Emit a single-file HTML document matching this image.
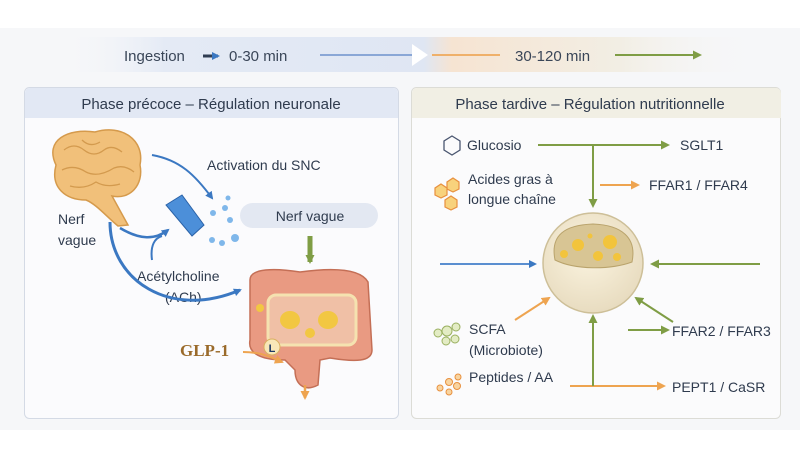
<!DOCTYPE html>
<html><head><meta charset="utf-8"><style>
body{margin:0;background:#fff;}
svg{display:block;font-family:"Liberation Sans",sans-serif;}
</style></head><body>
<svg width="800" height="457" viewBox="0 0 800 457" xmlns="http://www.w3.org/2000/svg">
<defs>
<linearGradient id="ban" x1="0" x2="1">
<stop offset="0" stop-color="#f6f7f9" stop-opacity="0"/>
<stop offset="0.15" stop-color="#e4eaf5"/>
<stop offset="0.52" stop-color="#dfe6f3"/>
<stop offset="0.56" stop-color="#f6e4d2"/>
<stop offset="0.8" stop-color="#f2eee4"/>
<stop offset="1" stop-color="#f6f7f9" stop-opacity="0"/>
</linearGradient>
<marker id="ab" markerWidth="8" markerHeight="8" refX="6" refY="4" orient="auto" markerUnits="userSpaceOnUse"><path d="M0,0 L8,4 L0,8 z" fill="#3b78c2"/></marker>
<marker id="ag" markerWidth="9" markerHeight="9" refX="7" refY="4.5" orient="auto" markerUnits="userSpaceOnUse"><path d="M0,0 L9,4.5 L0,9 z" fill="#7f9d45"/></marker>
<marker id="ao" markerWidth="9" markerHeight="9" refX="7" refY="4.5" orient="auto" markerUnits="userSpaceOnUse"><path d="M0,0 L9,4.5 L0,9 z" fill="#eea450"/></marker>
<radialGradient id="cell" cx="0.45" cy="0.4" r="0.6"><stop offset="0" stop-color="#fbf4e0"/><stop offset="1" stop-color="#e8dcc0"/></radialGradient>
</defs>
<rect x="0" y="28" width="800" height="402" fill="#f6f7f9"/>
<rect x="60" y="37" width="700" height="35" fill="url(#ban)"/>
<text x="124" y="61" font-size="15" fill="#3a4658">Ingestion</text>
<path d="M203,56 H218" stroke="#2f3d52" stroke-width="3" marker-end="url(#ab)"/>
<text x="229" y="61" font-size="15" fill="#3a4658">0-30 min</text>
<line x1="320" y1="55" x2="418" y2="55" stroke="#8aa7d6" stroke-width="2"/>
<path d="M412,44 L428,55 L412,66 z" fill="#fff"/>
<line x1="432" y1="55" x2="500" y2="55" stroke="#efb06a" stroke-width="2"/>
<text x="515" y="61" font-size="15" fill="#3a4658">30-120 min</text>
<line x1="615" y1="55" x2="700" y2="55" stroke="#7f9d45" stroke-width="2" marker-end="url(#ag)"/>

<rect x="24.5" y="87.5" width="374" height="331" rx="5" fill="#fbfbfd" stroke="#d4dae5"/>
<path d="M25,118 V93 a5,5 0 0 1 5,-5 H393 a5,5 0 0 1 5,5 V118 z" fill="#e2e8f4"/>
<text x="211" y="109" font-size="15" fill="#2f3b4e" text-anchor="middle">Phase précoce – Régulation neuronale</text>
<path d="M56,165 C44,140 68,128 95,132 C122,124 145,140 140,165 C144,185 130,200 112,196 L128,225 L118,226 C106,216 96,204 86,200 C66,200 50,188 56,165 z" fill="#f1c07a" stroke="#d59a4c" stroke-width="1.5"/>
<path d="M64,150 q10,-8 20,0 q10,8 20,0 q8,-6 18,2 M62,170 q12,-6 24,2 q12,6 28,-4 q10,-4 20,4 M82,140 q8,8 18,2 M70,186 q14,4 26,-4 q10,6 24,2" stroke="#d39a4e" fill="none" stroke-width="1.3"/>
<text x="207" y="170" font-size="14" fill="#2f3b4e">Activation du SNC</text>
<rect x="240" y="203" width="138" height="25" rx="12.5" fill="#e3e8f2"/>
<text x="310" y="221" font-size="14" fill="#2f3b4e" text-anchor="middle">Nerf vague</text>
<text x="58" y="224" font-size="14" fill="#2f3b4e">Nerf</text>
<text x="58" y="245" font-size="14" fill="#2f3b4e">vague</text>
<text x="137" y="281" font-size="14" fill="#2f3b4e">Acétylcholine</text>
<text x="165" y="302" font-size="14" fill="#2f3b4e">(ACh)</text>
<path d="M166,205 L182,195 L204,225 L192,236 z" fill="#4c8fd9" stroke="#2a62a8"/>
<g fill="#7fb7ea"><circle cx="213" cy="213" r="3"/><circle cx="225" cy="208" r="3"/><circle cx="230" cy="220" r="3"/><circle cx="212" cy="240" r="3"/><circle cx="222" cy="243" r="3"/><circle cx="235" cy="238" r="4"/><circle cx="228" cy="198" r="2.5"/></g>
<path d="M152,155 C180,160 195,175 212,198" stroke="#3b78c2" stroke-width="2" fill="none" marker-end="url(#ab)"/>
<path d="M120,228 C140,240 155,240 168,230" stroke="#3b78c2" stroke-width="2.5" fill="none" marker-end="url(#ab)"/>
<path d="M152,260 C150,245 155,238 162,236" stroke="#3b78c2" stroke-width="2" fill="none"/>
<path d="M110,222 C110,280 170,320 240,290" stroke="#3b78c2" stroke-width="3" fill="none" marker-end="url(#ab)"/>
<path d="M310,236 V262" stroke="#7f9d45" stroke-width="5" marker-end="url(#ag)"/>
<path d="M250,280 C250,268 275,268 300,272 C330,268 360,268 368,282 L372,350 C372,362 355,362 330,358 L320,360 L318,385 C305,392 295,385 295,370 L285,360 C255,360 248,350 250,340 z" fill="#e99a82" stroke="#c46f56" stroke-width="1.5"/>
<rect x="268" y="295" width="88" height="50" rx="8" fill="#f0c0a6" stroke="#f5e2b0" stroke-width="3"/>
<g fill="#f2c742"><ellipse cx="290" cy="320" rx="10" ry="9"/><ellipse cx="328" cy="320" rx="10" ry="9"/><circle cx="310" cy="333" r="5"/><circle cx="260" cy="308" r="4"/></g>
<path d="M305,385 V398" stroke="#eea450" stroke-width="2.5" marker-end="url(#ao)"/>
<text x="180" y="356" font-size="17" font-weight="bold" fill="#9a6a2a" font-family="Liberation Serif,serif">GLP-1</text>
<circle cx="272" cy="347" r="8" fill="#f8e7b8" stroke="#d9b060"/>
<text x="272" y="352" font-size="11" font-weight="bold" fill="#1f3a66" text-anchor="middle">L</text>
<path d="M243,352 C262,352 270,357 282,362" stroke="#eea450" stroke-width="2" fill="none" marker-end="url(#ao)"/>

<rect x="411.5" y="87.5" width="369" height="331" rx="5" fill="#fbfbfc" stroke="#dcdcd6"/>
<path d="M412,118 V93 a5,5 0 0 1 5,-5 H776 a5,5 0 0 1 5,5 V118 z" fill="#f1efe4"/>
<text x="590" y="109" font-size="15" fill="#2f3b4e" text-anchor="middle">Phase tardive – Régulation nutritionnelle</text>
<polygon points="452,136 460,141 460,150 452,155 444,150 444,141" fill="none" stroke="#4a5670" stroke-width="1.3"/>
<text x="467" y="150" font-size="14" fill="#2f3b4e">Glucosio</text>
<line x1="538" y1="145" x2="668" y2="145" stroke="#7f9d45" stroke-width="2" marker-end="url(#ag)"/>
<text x="680" y="150" font-size="14" fill="#2f3b4e">SGLT1</text>
<line x1="593" y1="145" x2="593" y2="206" stroke="#7f9d45" stroke-width="2" marker-end="url(#ag)"/>
<g fill="#f8d27c" stroke="#e8903e" stroke-width="1.2"><polygon points="453,178 459,182 459,189 453,192 447,189 447,182"/><polygon points="441,184 447,188 447,195 441,198 435,195 435,188"/><polygon points="451,196 457,200 457,207 451,210 445,207 445,200"/></g>
<text x="468" y="184" font-size="14" fill="#2f3b4e">Acides gras à</text>
<text x="468" y="204" font-size="14" fill="#2f3b4e">longue chaîne</text>
<line x1="600" y1="185" x2="638" y2="185" stroke="#eea450" stroke-width="2" marker-end="url(#ao)"/>
<text x="649" y="190" font-size="14" fill="#2f3b4e">FFAR1 / FFAR4</text>
<circle cx="593" cy="263" r="50" fill="url(#cell)" stroke="#cdbf98" stroke-width="1.5"/>
<path d="M555,260 C550,235 565,225 593,224 C622,225 637,238 632,262 C610,270 575,270 555,260 z" fill="#d8c594" stroke="#b9a36c"/>
<g fill="#f2c43c"><circle cx="578" cy="245" r="6"/><circle cx="610" cy="242" r="7"/><circle cx="598" cy="256" r="5"/><circle cx="617" cy="257" r="4"/><circle cx="564" cy="254" r="4"/><circle cx="590" cy="236" r="2.5"/></g>
<line x1="440" y1="264" x2="535" y2="264" stroke="#5a8ed0" stroke-width="2" marker-end="url(#ab)"/>
<line x1="760" y1="264" x2="652" y2="264" stroke="#7f9d45" stroke-width="2" marker-end="url(#ag)"/>
<line x1="515" y1="320" x2="549" y2="298" stroke="#eea450" stroke-width="2" marker-end="url(#ao)"/>
<line x1="673" y1="322" x2="636" y2="298" stroke="#7f9d45" stroke-width="2" marker-end="url(#ag)"/>
<g fill="#e3ecc4" stroke="#9ab060" stroke-width="1"><circle cx="438" cy="333" r="4"/><circle cx="447" cy="331" r="5"/><circle cx="456" cy="327" r="4"/><circle cx="446" cy="341" r="4"/><circle cx="455" cy="339" r="4"/></g>
<text x="469" y="334" font-size="14" fill="#2f3b4e">SCFA</text>
<text x="469" y="355" font-size="14" fill="#2f3b4e">(Microbiote)</text>
<line x1="628" y1="330" x2="668" y2="330" stroke="#7f9d45" stroke-width="2" marker-end="url(#ag)"/>
<text x="672" y="336" font-size="14" fill="#2f3b4e">FFAR2 / FFAR3</text>
<g fill="#f8d4a0" stroke="#e8903e" stroke-width="1"><circle cx="458" cy="377" r="3"/><circle cx="449" cy="382" r="3.5"/><circle cx="457" cy="386" r="3.5"/><circle cx="440" cy="388" r="3"/><circle cx="449" cy="392" r="3"/></g>
<text x="469" y="382" font-size="14" fill="#2f3b4e">Peptides / AA</text>
<line x1="570" y1="386" x2="664" y2="386" stroke="#eea450" stroke-width="2" marker-end="url(#ao)"/>
<text x="672" y="392" font-size="14" fill="#2f3b4e">PEPT1 / CaSR</text>
<line x1="593" y1="386" x2="593" y2="316" stroke="#7f9d45" stroke-width="2" marker-end="url(#ag)"/>
</svg>
</body></html>
